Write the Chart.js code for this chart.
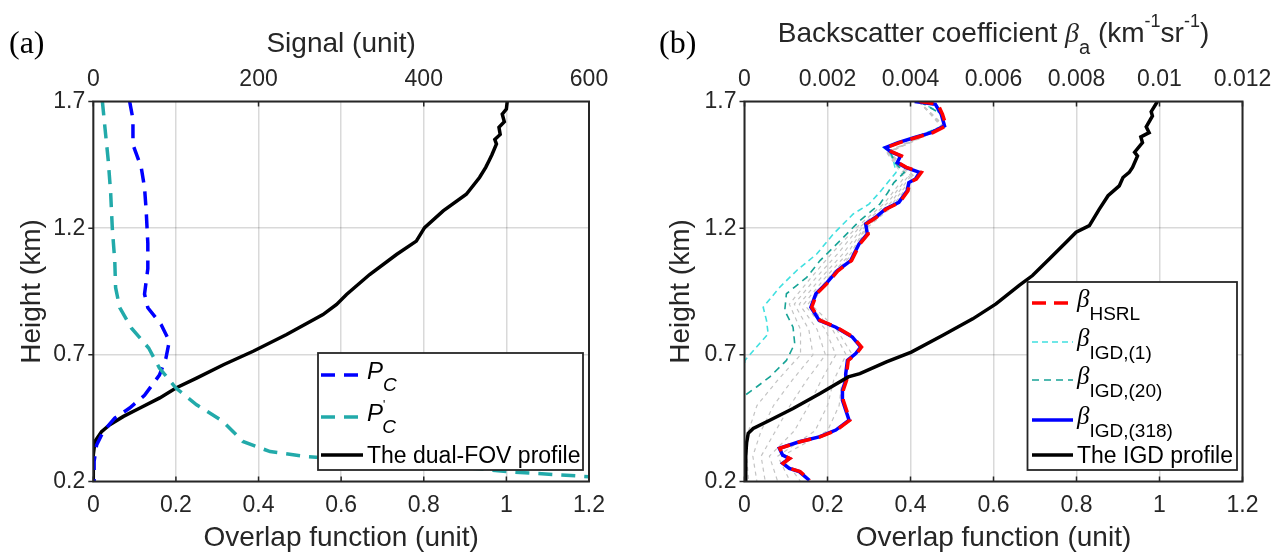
<!DOCTYPE html>
<html>
<head>
<meta charset="utf-8"/>
<title>Overlap function profiles</title>
<script src="https://cdn.jsdelivr.net/npm/chart.js"></script>
<style>
body{margin:0;background:#fff;}
#wrap{position:relative;width:1286px;height:555px;}
canvas{position:absolute;top:0;}
#chartA{left:0;}
#chartB{left:640px;}
</style>
</head>
<body>
<div id="wrap">
	<canvas id="chartA" width="640" height="555"></canvas>
	<canvas id="chartB" width="646" height="555"></canvas>
</div>
<script>
// ---- axis ticks ----
const heightTicks=[0.2,0.7,1.2,1.7];
const heightLabels=['0.2','0.7','1.2','1.7'];
const overlapTicks=[0,0.2,0.4,0.6,0.8,1,1.2];
const overlapLabels=['0','0.2','0.4','0.6','0.8','1','1.2'];
const signalTicks=[0,200,400,600];
const signalLabels=['0','200','400','600'];
const betaTicks=[0,0.002,0.004,0.006,0.008,0.01,0.012];
const betaLabels=['0','0.002','0.004','0.006','0.008','0.01','0.012'];

// ---- panel (a) ----
const heightPC=[1.70,1.63,1.53,1.44,1.36,1.27,1.14,1.04,0.94,0.886,0.82,0.754,0.688,0.62,0.54,0.49,0.45,0.397,0.344,0.28,0.20];
const signalPC=[44,48,48,58,62,64,66,66,62,66,82,92,88,80,62,44,26,12,4,1,1];
const heightPCp=[1.70,1.60,1.47,1.34,1.20,1.07,0.965,0.886,0.806,0.727,0.648,0.569,0.503,0.437,0.358,0.318,0.298,0.265,0.239,0.219,0.205];
const signalPCp=[11,14,18,21,23,26,27,32,46,67,80,100,125,157,181,214,258,419,500,600,650];
const heightDual=[0.20,0.305,0.358,0.397,0.424,0.457,0.49,0.53,0.569,0.608,0.661,0.714,0.78,0.859,0.899,0.938,1.017,1.096,1.149,1.202,1.268,1.334,1.40,1.44,1.466,1.49,1.532,1.55,1.57,1.598,1.62,1.65,1.67,1.70];
const overlapDual=[0,0,0.004,0.02,0.04,0.073,0.113,0.161,0.2,0.25,0.315,0.387,0.468,0.556,0.589,0.613,0.669,0.734,0.782,0.802,0.847,0.903,0.935,0.95,0.958,0.965,0.976,0.972,0.985,0.982,0.995,0.99,1.0,1.002];

// ---- panel (b) ----
const heightHSRL=[1.70,1.689,1.65,1.604,1.577,1.558,1.538,1.518,1.502,1.485,1.459,1.44,1.42,1.394,1.38,1.348,1.302,1.276,1.243,1.217,1.177,1.138,1.072,1.033,0.98,0.941,0.888,0.836,0.809,0.77,0.731,0.705,0.678,0.626,0.60,0.56,0.521,0.481,0.442,0.403,0.376,0.357,0.331,0.304,0.291,0.272,0.252,0.239,0.205];
const betaHSRL=[0.00422,0.00466,0.00477,0.00486,0.00454,0.00414,0.00374,0.00342,0.00354,0.00378,0.00370,0.00390,0.00426,0.00414,0.00398,0.00394,0.00374,0.00342,0.00318,0.00294,0.00298,0.00278,0.00258,0.00226,0.00198,0.00174,0.00162,0.00182,0.00222,0.00262,0.00282,0.00270,0.00250,0.00246,0.00246,0.00238,0.00238,0.00246,0.00254,0.00222,0.00182,0.00134,0.00085,0.00093,0.00109,0.00093,0.00109,0.00134,0.00158];
const betaIGD318=[0.00410,0.00460,0.00474,0.00482,0.00450,0.00410,0.00370,0.00340,0.00352,0.00376,0.00368,0.00388,0.00422,0.00412,0.00396,0.00392,0.00372,0.00340,0.00316,0.00292,0.00296,0.00276,0.00256,0.00224,0.00196,0.00172,0.00160,0.00180,0.00220,0.00260,0.00280,0.00268,0.00248,0.00244,0.00244,0.00236,0.00236,0.00244,0.00252,0.00220,0.00180,0.00132,0.00084,0.00092,0.00108,0.00092,0.00108,0.00132,0.00156];
const heightIGD1=[1.70,1.65,1.604,1.558,1.518,1.50,1.459,1.42,1.38,1.34,1.295,1.256,1.177,1.098,1.033,0.967,0.888,0.836,0.783,0.731,0.678,0.66];
const betaIGD1=[0.00422,0.00477,0.00480,0.00410,0.00335,0.00350,0.00360,0.00365,0.00345,0.00325,0.00300,0.00262,0.00214,0.00174,0.00126,0.00085,0.00045,0.00053,0.00057,0.00029,0.00001,0];
const heightIGD20=[1.70,1.65,1.604,1.558,1.518,1.50,1.459,1.42,1.38,1.34,1.295,1.23,1.15,1.072,1.006,0.941,0.875,0.809,0.744,0.678,0.613,0.573,0.54];
const betaIGD20=[0.00422,0.00475,0.00482,0.00412,0.00338,0.00352,0.00362,0.00385,0.00360,0.00345,0.00326,0.00278,0.00230,0.00182,0.00150,0.00101,0.00097,0.00117,0.00121,0.00101,0.00061,0.00029,0.00001];
// intermediate iterations (grey band)
const heightGrey=[1.70,1.60,1.50,1.40,1.30,1.20,1.10,1.00,0.90,0.80,0.70,0.60,0.50,0.40,0.30,0.20];
const betaGrey1=[0.00420,0.00475,0.00342,0.00385,0.00338,0.00268,0.00210,0.00158,0.00108,0.00135,0.00135,0.00080,0.00030,0.00010,0.00005,0.00010];
const betaGrey2=[0.00420,0.00478,0.00344,0.00392,0.00345,0.00275,0.00225,0.00170,0.00120,0.00155,0.00165,0.00115,0.00070,0.00040,0.00020,0.00030];
const betaGrey3=[0.00420,0.00480,0.00346,0.00398,0.00352,0.00282,0.00238,0.00182,0.00132,0.00175,0.00195,0.00150,0.00110,0.00075,0.00040,0.00050];
const betaGrey4=[0.00420,0.00482,0.00347,0.00404,0.00358,0.00287,0.00248,0.00192,0.00143,0.00195,0.00220,0.00185,0.00155,0.00120,0.00060,0.00080];
const betaGrey5=[0.00420,0.00483,0.00348,0.00409,0.00363,0.00291,0.00256,0.00200,0.00153,0.00212,0.00245,0.00215,0.00200,0.00170,0.00080,0.00110];
const betaGrey6=[0.00420,0.00484,0.00349,0.00412,0.00367,0.00294,0.00261,0.00205,0.00160,0.00222,0.00260,0.00235,0.00228,0.00200,0.00090,0.00135];
const heightIGDp=[0.20,0.30,0.352,0.39,0.409,0.442,0.488,0.547,0.613,0.626,0.672,0.711,0.777,0.842,0.901,0.974,1.013,1.079,1.144,1.184,1.21,1.275,1.328,1.367,1.40,1.42,1.44,1.485,1.50,1.538,1.56,1.577,1.60,1.643,1.66,1.70];
const overlapIGDp=[0.003,0.003,0.005,0.009,0.021,0.061,0.117,0.182,0.25,0.278,0.342,0.402,0.478,0.55,0.606,0.662,0.694,0.735,0.775,0.799,0.831,0.855,0.876,0.903,0.912,0.927,0.935,0.947,0.94,0.959,0.955,0.975,0.968,0.983,0.98,0.995];

const SANS='"Liberation Sans", Arial, sans-serif';
const SERIF='"Liberation Serif", "Times New Roman", serif';
const INK='#262626';
const GRID='rgba(0,0,0,0.15)';

function pts(xs,ys){ return xs.map((v,i)=>({x:v,y:ys[i]})); }

// draws text pieces one after another (sub/superscripts)
function rich(ctx,x,y,segs,align){
	let w=0;
	segs.forEach(s=>{ ctx.font=s.f; w+=ctx.measureText(s.t).width+(s.dx||0); });
	let cx=align==='center'?x-w/2:x;
	ctx.textAlign='left'; ctx.textBaseline='alphabetic';
	segs.forEach(s=>{
		ctx.font=s.f;
		ctx.fillText(s.t,cx,y+(s.dy||0));
		cx+=ctx.measureText(s.t).width+(s.dx||0);
	});
}

const matlabBox={
	id:'matlabBox',
	afterDatasetsDraw(chart,args,o){
		const ctx=chart.ctx, a=chart.chartArea, sc=chart.scales;
		ctx.save();
		ctx.strokeStyle=INK; ctx.lineWidth=1.5; ctx.setLineDash([]);
		ctx.beginPath();
		sc.x.ticks.forEach(t=>{ const p=sc.x.getPixelForValue(t.value); ctx.moveTo(p,a.bottom); ctx.lineTo(p,a.bottom-5); });
		sc.x2.ticks.forEach(t=>{ const p=sc.x2.getPixelForValue(t.value); ctx.moveTo(p,a.top); ctx.lineTo(p,a.top+5); });
		sc.y.ticks.forEach(t=>{ const p=sc.y.getPixelForValue(t.value); ctx.moveTo(a.left-5,p); ctx.lineTo(a.left,p); });
		ctx.stroke();
		ctx.lineWidth=2;
		ctx.strokeRect(a.left,a.top,a.right-a.left,a.bottom-a.top);

		const L=o.legend;
		ctx.fillStyle='#fff';
		ctx.fillRect(L.x1,L.y1,L.x2-L.x1,L.y2-L.y1);
		ctx.strokeStyle=INK; ctx.lineWidth=1.8;
		ctx.strokeRect(L.x1,L.y1,L.x2-L.x1,L.y2-L.y1);
		L.rows.forEach(r=>{
			const ds=chart.data.datasets[r.ds];
			ctx.strokeStyle=ds.borderColor; ctx.lineWidth=ds.borderWidth;
			ctx.setLineDash(ds.borderDash||[]);
			ctx.beginPath(); ctx.moveTo(L.s1,r.y); ctx.lineTo(L.s2,r.y); ctx.stroke();
			ctx.setLineDash([]);
			ctx.fillStyle='#000';
			rich(ctx,L.tx,r.y,r.segs,'left');
		});

		ctx.fillStyle='#000';
		ctx.font='32px '+SERIF; ctx.textAlign='left'; ctx.textBaseline='alphabetic';
		ctx.fillText(o.panel,o.panelX,53);
		if(o.title){ ctx.fillStyle=INK; rich(ctx,(a.left+a.right)/2,42,o.title,'center'); }
		ctx.restore();
	}
};

function axis(pos,min,max,ticks,labels,fit,pad,title,grid){
	return {
		type:'linear', position:pos, min:min, max:max,
		afterBuildTicks:s=>{ s.ticks=ticks.map(v=>({value:v})); },
		afterFit:fit,
		ticks:{ callback:(v,i)=>labels[i], font:{size:23,family:SANS}, color:INK, padding:pad, maxRotation:0, autoSkip:false },
		grid:{ display:grid, color:GRID, lineWidth:1.5, drawTicks:false },
		border:{ display:false },
		title:title
	};
}
function axTitle(text,padTop,padBottom){
	return { display:true, text:text, color:INK, font:{size:28,family:SANS}, padding:{top:padTop,bottom:padBottom} };
}
function line(label,data,color,width,dash,xAxis,order){
	return { label:label, data:data, borderColor:color, borderWidth:width, borderDash:dash, xAxisID:xAxis,
		showLine:true, pointRadius:0, fill:false, tension:0, order:order };
}

// ---- chart (a) ----
new Chart(document.getElementById('chartA'),{
	type:'scatter',
	data:{ datasets:[
		line('P_C',pts(signalPC,heightPC),'#0000ff',3.5,[14,9],'x2',2),
		line("P'_C",pts(signalPCp,heightPCp),'#22aaaa',3.5,[14,9],'x2',1),
		line('The dual-FOV profile',pts(overlapDual,heightDual),'#000000',3.5,[],'x',3)
	]},
	options:{
		responsive:false, animation:false, devicePixelRatio:1,
		layout:{ padding:{left:0,right:51,top:0,bottom:0} },
		scales:{
			x:axis('bottom',0,1.2,overlapTicks,overlapLabels,s=>{s.height=73.5;},10,axTitle('Overlap function (unit)',0,0),true),
			x2:axis('top',0,600,signalTicks,signalLabels,s=>{s.height=101.5;},8,axTitle('Signal (unit)',27,0),false),
			y:axis('left',0.2,1.7,heightTicks,heightLabels,s=>{s.width=93.3;},8,axTitle('Height (km)',15,0),true)
		},
		plugins:{
			legend:{display:false}, tooltip:{enabled:false},
			matlabBox:{
				panel:'(a)', panelX:9,
				legend:{ x1:318,y1:353,x2:583,y2:470, s1:321,s2:363, tx:367, rows:[
					{ds:0,y:375,segs:[{t:'P',f:'italic 24px '+SANS,dy:4},{t:'C',f:'italic 19px '+SANS,dy:16}]},
					{ds:1,y:417,segs:[{t:'P',f:'italic 24px '+SANS,dy:4},{t:'\'',f:'12px '+SANS,dy:-8,dx:-3},{t:'C',f:'italic 19px '+SANS,dy:16}]},
					{ds:2,y:455,segs:[{t:'The dual-FOV profile',f:'23px '+SANS,dy:8}]}
				]}
			}
		}
	},
	plugins:[matlabBox]
});

// ---- chart (b) ----
const greyDash=[4,4];
new Chart(document.getElementById('chartB'),{
	type:'scatter',
	data:{ datasets:[
		line('HSRL',pts(betaHSRL,heightHSRL),'#ff0000',3.5,[14,8],'x2',4),
		line('IGD (1)',pts(betaIGD1,heightIGD1),'#40e0e0',1.6,[6,4],'x2',7),
		line('IGD (20)',pts(betaIGD20,heightIGD20),'#17a396',1.6,[7,5],'x2',6),
		line('IGD (318)',pts(betaIGD318,heightHSRL),'#0000ff',3.5,[],'x2',5),
		line('The IGD profile',pts(overlapIGDp,heightIGDp),'#000000',3.5,[],'x',1),
		line('grey',pts(betaGrey1,heightGrey),'#c4c4c4',1.2,greyDash,'x2',9),
		line('grey',pts(betaGrey2,heightGrey),'#c4c4c4',1.2,greyDash,'x2',9),
		line('grey',pts(betaGrey3,heightGrey),'#c4c4c4',1.2,greyDash,'x2',9),
		line('grey',pts(betaGrey4,heightGrey),'#c4c4c4',1.2,greyDash,'x2',9),
		line('grey',pts(betaGrey5,heightGrey),'#c4c4c4',1.2,greyDash,'x2',9),
		line('grey',pts(betaGrey6,heightGrey),'#c4c4c4',1.2,greyDash,'x2',9)
	]},
	options:{
		responsive:false, animation:false, devicePixelRatio:1,
		layout:{ padding:{left:0,right:43.5,top:0,bottom:0} },
		scales:{
			x:axis('bottom',0,1.2,overlapTicks,overlapLabels,s=>{s.height=73.5;},10,axTitle('Overlap function (unit)',0,0),true),
			x2:axis('top',0,0.012,betaTicks,betaLabels,s=>{s.height=101.5;},8,{display:false},false),
			y:axis('left',0.2,1.7,heightTicks,heightLabels,s=>{s.width=104.5;},8,axTitle('Height (km)',24,0),true)
		},
		plugins:{
			legend:{display:false}, tooltip:{enabled:false},
			matlabBox:{
				panel:'(b)', panelX:19,
				title:[
					{t:'Backscatter coefficient ',f:'28px '+SANS},
					{t:'\u03b2',f:'italic 28px '+SERIF},
					{t:'a',f:'20px '+SANS,dy:12},
					{t:' (km',f:'28px '+SANS},
					{t:'-1',f:'18px '+SANS,dy:-15},
					{t:'sr',f:'28px '+SANS},
					{t:'-1',f:'18px '+SANS,dy:-15},
					{t:')',f:'28px '+SANS}
				],
				legend:{ x1:387.5,y1:282,x2:597,y2:470, s1:392,s2:433, tx:437, rows:[
					{ds:0,y:303,segs:[{t:'\u03b2',f:'italic 25px '+SERIF,dy:4},{t:'HSRL',f:'19px '+SANS,dy:17}]},
					{ds:1,y:342,segs:[{t:'\u03b2',f:'italic 25px '+SERIF,dy:4},{t:'IGD,(1)',f:'19px '+SANS,dy:17}]},
					{ds:2,y:380,segs:[{t:'\u03b2',f:'italic 25px '+SERIF,dy:4},{t:'IGD,(20)',f:'19px '+SANS,dy:17}]},
					{ds:3,y:420,segs:[{t:'\u03b2',f:'italic 25px '+SERIF,dy:4},{t:'IGD,(318)',f:'19px '+SANS,dy:17}]},
					{ds:4,y:455,segs:[{t:'The IGD profile',f:'23px '+SANS,dy:8}]}
				]}
			}
		}
	},
	plugins:[matlabBox]
});
</script>
</body>
</html>
